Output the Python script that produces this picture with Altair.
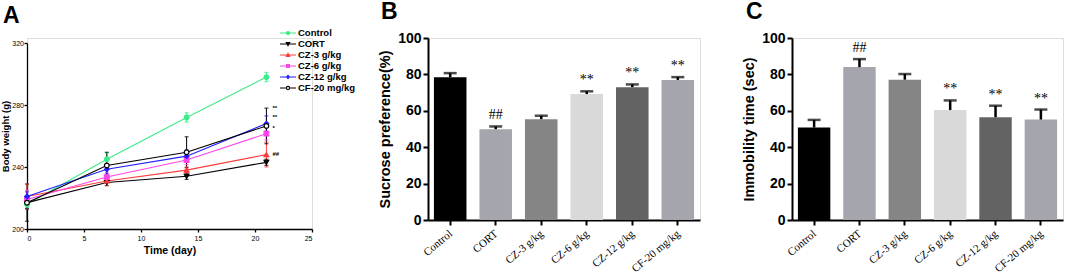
import altair as alt
import pandas as pd

# ---------------- data ----------------
groups = ["Control", "CORT", "CZ-3 g/kg", "CZ-6 g/kg", "CZ-12 g/kg", "CF-20 mg/kg"]
days = [0, 7, 14, 21]

bw_control = [216, 245, 272, 298]
bw_cort = [217, 230, 234, 243]
bw_cz3 = [221, 231, 238, 248]
bw_cz6 = [219, 233.5, 244.5, 261.5]
bw_cz12 = [221, 238.5, 247, 268]
bw_cf20 = [217, 241, 249.5, 266.5]

sem_control = [2, 4, 3, 3]
sem_cort = [12, 2, 2, 2]
sem_cz3 = [8, 3, 2, 8]
sem_cz6 = [6, 3, 3, 4]
sem_cz12 = [3, 3, 4, 5]
sem_cf20 = [4, 8.5, 10, 11.5]

annot_a_labels = ["**", "**", "*", "##"]
annot_a_values = [278, 272.5, 265, 248.5]

sucrose = [78.4, 49.9, 55.4, 69.2, 73.0, 76.9]
sucrose_err = [2.3, 1.5, 1.9, 1.5, 1.5, 1.6]
sucrose_marks = ["", "##", "", "**", "**", "**"]

immob = [50.8, 84.0, 77.1, 60.4, 56.5, 55.2]
immob_err = [4.2, 4.4, 3.1, 5.3, 6.3, 5.5]
immob_marks = ["", "##", "", "**", "**", "**"]

# ---------------- styles ----------------
line_colors = ["#3DEB8A", "#000000", "#FF3B3B", "#FF45E6", "#1F1FFF", "#000000"]
fill_colors = ["#3DEB8A", "#000000", "#FF3B3B", "#FF45E6", "#1F1FFF", "#FFFFFF"]
plot_shapes = ["circle", "triangle-down", "triangle-up", "square", "diamond", "circle"]
legend_paths = [
    "M-1.6,0H-0.3A0.3,0.3 0 1,1 0.3,0A0.3,0.3 0 1,1 -0.3,0M0.3,0H1.6",
    "M-1.6,0H1.6M-0.34,-0.28H0.34L0,0.32Z",
    "M-1.6,0H1.6M-0.34,0.28H0.34L0,-0.32Z",
    "M-1.6,0H1.6M-0.28,-0.28H0.28V0.28H-0.28Z",
    "M-1.6,0H1.6M0,-0.32L0.26,0L0,0.32L-0.26,0Z",
    "M-1.6,0H-0.32A0.32,0.32 0 1,1 0.32,0A0.32,0.32 0 1,1 -0.32,0M0.32,0H1.6",
]
bar_colors = ["#000000", "#A5A5AD", "#858585", "#D9D9D9", "#636363", "#A5A5AD"]

SANS = "Liberation Sans"
SERIF = "Liberation Serif"

# ---------------- panel A ----------------
rows = []
for g, vals, errs in zip(groups,
                         [bw_control, bw_cort, bw_cz3, bw_cz6, bw_cz12, bw_cf20],
                         [sem_control, sem_cort, sem_cz3, sem_cz6, sem_cz12, sem_cf20]):
    for d, v, e in zip(days, vals, errs):
        rows.append({"group": g, "day": d, "bw": v, "lo": v - e, "hi": v + e})
dfA = pd.DataFrame(rows)

dfA_annot = pd.DataFrame({"day": [21] * len(annot_a_labels), "bw": annot_a_values,
                          "label": annot_a_labels})

WA, HA = 285, 191
xA = alt.X("day:Q", scale=alt.Scale(domain=[0, 25], nice=False),
           axis=alt.Axis(values=[0, 5, 10, 15, 20, 25], tickCount=6, title="Time (day)",
                         titleFont=SANS, titleFontSize=10.5, titleFontWeight="bold",
                         titlePadding=4, labelFont=SANS, labelFontSize=7,
                         domainWidth=1.3, tickWidth=1.3, tickSize=3, labelPadding=2,
                         domainColor="black", tickColor="black", labelColor="black",
                         titleColor="black", grid=False))
yA = alt.Y("bw:Q", scale=alt.Scale(domain=[200, 320], nice=False, range=[HA, HA - 186]),
           axis=alt.Axis(values=[200, 240, 280, 320], tickCount=4, title="Body weight (g)",
                         titleFont=SANS, titleFontSize=9.5, titleFontWeight="bold",
                         titlePadding=1, labelFont=SANS, labelFontSize=7,
                         domainWidth=1.3, tickWidth=1.3, tickSize=3, labelPadding=0.5,
                         domainColor="black", tickColor="black", labelColor="black",
                         titleColor="black", grid=False))

col_scale = alt.Scale(domain=groups, range=line_colors)
fill_scale = alt.Scale(domain=groups, range=fill_colors)
shape_scale = alt.Scale(domain=groups, range=plot_shapes)

baseA = alt.Chart(dfA)
linesA = baseA.mark_line(strokeWidth=1.1).encode(
    x=xA, y=yA, color=alt.Color("group:N", scale=col_scale, legend=None),
    detail="group:N")
errA = baseA.mark_rule(strokeWidth=1).encode(
    x="day:Q", y="lo:Q", y2="hi:Q",
    color=alt.Color("group:N", scale=col_scale, legend=None))
capHiA = baseA.mark_tick(orient="horizontal", size=4, thickness=1.2).encode(
    x="day:Q", y="hi:Q", color=alt.Color("group:N", scale=col_scale, legend=None))
capLoA = baseA.mark_tick(orient="horizontal", size=4, thickness=1.2).encode(
    x="day:Q", y="lo:Q", color=alt.Color("group:N", scale=col_scale, legend=None))
ptsA = baseA.mark_point(filled=True, size=22, strokeWidth=1.2, opacity=1).encode(
    x="day:Q", y="bw:Q",
    shape=alt.Shape("group:N", scale=shape_scale, legend=None),
    fill=alt.Fill("group:N", scale=fill_scale, legend=None),
    stroke=alt.Stroke("group:N", scale=col_scale, legend=None))
LEGX, LEGY = 255, -11
legA = baseA.transform_filter("false").mark_point(filled=True, size=100, strokeWidth=1.1,
                                                  opacity=1).encode(
    x="day:Q", y="bw:Q",
    shape=alt.Shape("group:N", scale=alt.Scale(domain=groups, range=legend_paths),
                    legend=alt.Legend(title=None, orient="none", legendX=LEGX, legendY=LEGY,
                                      labelFont=SANS, labelFontSize=9.5,
                                      labelFontWeight="bold", labelColor="black",
                                      symbolSize=100, labelOffset=4, rowPadding=-1.2,
                                      symbolStrokeWidth=1.1)),
    fill=alt.Fill("group:N", scale=alt.Scale(domain=groups, range=fill_colors),
                  legend=alt.Legend(title=None, orient="none", legendX=LEGX, legendY=LEGY)),
    stroke=alt.Stroke("group:N", scale=alt.Scale(domain=groups, range=line_colors),
                      legend=alt.Legend(title=None, orient="none", legendX=LEGX, legendY=LEGY)))
annotA = alt.Chart(dfA_annot).mark_text(font=SANS, fontSize=6, fontWeight="bold",
                                        align="left", dx=6, color="black").encode(
    x="day:Q", y="bw:Q", text="label:N")

panelA = alt.layer(linesA, errA, capHiA, capLoA, ptsA, legA, annotA).resolve_scale(
    shape="independent", fill="independent", stroke="independent"
).properties(
    width=WA, height=HA,
    title=alt.TitleParams("A", anchor="start", frame="group", font=SANS, fontSize=23,
                          fontWeight="bold", color="black", dx=-24, offset=-18.5,
                          baseline="alphabetic"))

# ---------------- panels B, C ----------------
def bar_panel(values, errs, marks, ytitle, letter, width, title_dx):
    df = pd.DataFrame({"group": groups, "val": values,
                       "hi": [v + e for v, e in zip(values, errs)], "mark": marks})
    x = alt.X("group:N", sort=groups,
              scale=alt.Scale(paddingInner=0.285, paddingOuter=0.13),
              axis=alt.Axis(title=None, labelAngle=-40, labelAlign="right",
                            labelBaseline="top", labelFont=SERIF, labelFontSize=11,
                            labelColor="black", labelPadding=2.5, labelOffset=-3,
                            domainWidth=2, domainColor="black", tickWidth=2,
                            tickColor="black", tickSize=5, grid=False))
    y = alt.Y("val:Q", scale=alt.Scale(domain=[0, 100], nice=False),
              axis=alt.Axis(values=[0, 20, 40, 60, 80, 100], tickCount=6, title=ytitle,
                            titleFont=SANS, titleFontSize=14.5, titleFontWeight="bold",
                            titleColor="black", titlePadding=5,
                            labelFont=SANS, labelFontSize=14, labelFontWeight="bold",
                            labelColor="black", labelPadding=2,
                            domainWidth=2, domainColor="black", tickWidth=2,
                            tickColor="black", tickSize=5, grid=False))
    base = alt.Chart(df)
    bars = base.mark_bar().encode(
        x=x, y=y, color=alt.Color("group:N", sort=groups,
                                  scale=alt.Scale(domain=groups, range=bar_colors),
                                  legend=None))
    rule = base.mark_rule(strokeWidth=2.5, color="black").encode(
        x=alt.X("group:N", sort=groups), y="val:Q", y2="hi:Q")
    cap = base.mark_tick(orient="horizontal", size=13, thickness=2.5, color="black").encode(
        x=alt.X("group:N", sort=groups), y="hi:Q")
    txt = base.mark_text(font=SERIF, fontSize=14, baseline="bottom", dy=-4,
                         fill="#000000").encode(
        x=alt.X("group:N", sort=groups), y="hi:Q", text="mark:N")
    return alt.layer(bars, rule, cap, txt).properties(
        width=width, height=182,
        title=alt.TitleParams(letter, anchor="start", frame="group", font=SANS,
                              fontSize=23, fontWeight="bold", color="black", dx=title_dx,
                              offset=-10.8, baseline="alphabetic"))

panelB = bar_panel(sucrose, sucrose_err, sucrose_marks, "Sucrose preference(%)", "B", 272, -47)
panelC = bar_panel(immob, immob_err, immob_marks, "Immobility time (sec)", "C", 271, -46)

right = alt.hconcat(panelB, panelC, spacing=92, bounds="flush").resolve_scale(
    color="independent")
chart = alt.hconcat(panelA, right, spacing=116, bounds="flush").resolve_scale(
    color="independent"
).properties(
    padding={"left": 0, "top": 0, "right": 0, "bottom": 0}
).configure_view(stroke=None).configure_axis(
    labelOverlap=False
).configure(background="white")

chart.save("out.html", embed_options={"renderer": "svg", "actions": False})
